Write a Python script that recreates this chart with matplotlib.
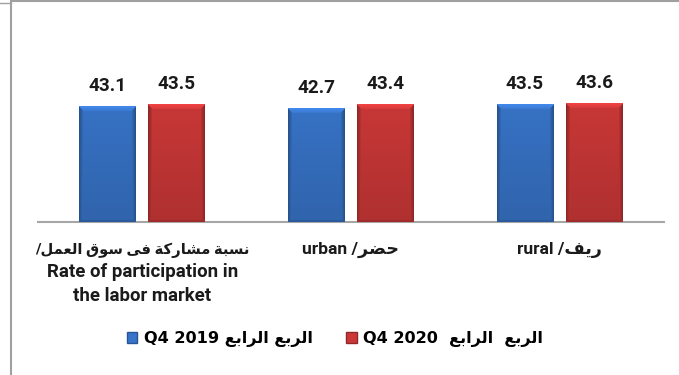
import numpy as np
import matplotlib
matplotlib.use('Agg')
import matplotlib.pyplot as plt
import matplotlib.transforms as mtransforms
from matplotlib.patches import Patch
from matplotlib.lines import Line2D

# Arabic letters -> (isolated, final, initial, medial); None = does not join forward
FORMS = {
    'ا': (0xFE8D, 0xFE8E, None, None),
    'ب': (0xFE8F, 0xFE90, 0xFE91, 0xFE92),
    'ة': (0xFE93, 0xFE94, None, None),
    'ح': (0xFEA1, 0xFEA2, 0xFEA3, 0xFEA4),
    'ر': (0xFEAD, 0xFEAE, None, None),
    'س': (0xFEB1, 0xFEB2, 0xFEB3, 0xFEB4),
    'ش': (0xFEB5, 0xFEB6, 0xFEB7, 0xFEB8),
    'ض': (0xFEBD, 0xFEBE, 0xFEBF, 0xFEC0),
    'ع': (0xFEC9, 0xFECA, 0xFECB, 0xFECC),
    'ف': (0xFED1, 0xFED2, 0xFED3, 0xFED4),
    'ق': (0xFED5, 0xFED6, 0xFED7, 0xFED8),
    'ك': (0xFED9, 0xFEDA, 0xFEDB, 0xFEDC),
    'ل': (0xFEDD, 0xFEDE, 0xFEDF, 0xFEE0),
    'م': (0xFEE1, 0xFEE2, 0xFEE3, 0xFEE4),
    'ن': (0xFEE5, 0xFEE6, 0xFEE7, 0xFEE8),
    'و': (0xFEED, 0xFEEE, None, None),
    'ى': (0xFEEF, 0xFEF0, None, None),
    'ي': (0xFEF1, 0xFEF2, 0xFEF3, 0xFEF4),
}


def arabic(text):
    """Shape Arabic letters and return them in display (left-to-right) order."""
    out = []
    for i, ch in enumerate(text):
        if ch not in FORMS:
            out.append(ch)
            continue
        iso, fin, ini, med = FORMS[ch]
        prev = text[i - 1] if i > 0 else ''
        nxt = text[i + 1] if i + 1 < len(text) else ''
        joins_prev = prev in FORMS and FORMS[prev][2] is not None
        joins_next = nxt in FORMS and ini is not None
        if joins_prev and joins_next:
            out.append(chr(med))
        elif joins_prev:
            out.append(chr(fin))
        elif joins_next:
            out.append(chr(ini))
        else:
            out.append(chr(iso))
    return ''.join(reversed(out))


# data: each category label is a list of lines
categories = [
    ['/' + arabic('نسبة مشاركة فى سوق العمل'), 'Rate of participation in', 'the labor market'],
    ['urban /' + arabic('حضر')],
    ['rural /' + arabic('ريف')],
]
q4_2019 = [43.1, 42.7, 43.5]
q4_2020 = [43.5, 43.4, 43.6]
series_labels = [
    'Q4 2019 ' + arabic('الربع الرابع'),
    'Q4 2020  ' + arabic('الربع  الرابع'),
]

blue = np.array([56, 116, 200]) / 255
red = np.array([204, 56, 56]) / 255
label_font = ['Roboto', 'DejaVu Sans']

fig = plt.figure(figsize=(6.79, 3.75), dpi=100)
ax = fig.add_axes([38 / 679, 1 - 221.7 / 375, 626 / 679, 150.6 / 375])

x = np.arange(len(categories))
width = 0.273
offset = 0.166
bars_a = ax.bar(x - offset, q4_2019, width, color=blue, edgecolor='none', zorder=2)
bars_b = ax.bar(x + offset, q4_2020, width, color=red, edgecolor='none', zorder=2)

ax.set_ylim(20, 50)
ax.set_xlim(-0.5, len(categories) - 0.5)
fig.canvas.draw()


def shade(bar, base):
    # bevelled look: lighter top edge, darker sides, slight top-to-bottom fade
    x0, y0 = bar.get_x(), 20
    x1, y1 = x0 + bar.get_width(), bar.get_height()
    (px0, py0), (px1, py1) = ax.transData.transform([(x0, y0), (x1, y1)])
    w = max(int(round(px1 - px0)), 2)
    h = max(int(round(py1 - py0)), 2)
    cols = np.arange(w)[None, :]
    rows = np.arange(h)[:, None]
    edge = np.minimum(cols, w - 1 - cols)
    f = np.ones((h, w))
    f *= 0.98 - 0.12 * rows / h
    f = np.where(edge < 4, 0.70 + 0.06 * edge, f)
    top = (rows < 5) & (edge >= rows)
    f = np.where(top, 1.18 - 0.03 * rows, f)
    f = np.where(rows >= h - 2, 0.78, f)
    img = np.clip(base[None, None, :] * f[:, :, None], 0, 1)
    ax.imshow(img, extent=(x0, x1, y0, y1), aspect='auto', origin='upper',
              zorder=3, interpolation='bilinear')


for bar in bars_a:
    shade(bar, blue)
for bar in bars_b:
    shade(bar, red)
ax.set_xlim(-0.5, len(categories) - 0.5)
ax.set_ylim(20, 50)

# value labels
for bars, vals in ((bars_a, q4_2019), (bars_b, q4_2020)):
    for bar, v in zip(bars, vals):
        ax.annotate(f'{v:.1f}', (bar.get_x() + bar.get_width() / 2, v),
                    xytext=(0, 8), textcoords='offset points', ha='center', va='bottom',
                    fontsize=13.6, fontweight='bold', family=label_font, color='#1a1a1a')

for s in ('top', 'left', 'right'):
    ax.spines[s].set_visible(False)
ax.spines['bottom'].set_color('#a6a6a6')
ax.spines['bottom'].set_linewidth(1.5)
ax.set_yticks([])
ax.set_xticks([])

# category labels, one text per line below the baseline
line_drops = [20.4, 36.2, 53.5]  # points below the axis line
for xi, lines in zip(x, categories):
    for j, line in enumerate(lines):
        multi = len(lines) > 1
        size = (10.6 if j == 0 else 13.4) if multi else 12.6
        tr = mtransforms.offset_copy(ax.get_xaxis_transform(), fig=fig, x=0, y=-line_drops[j], units='points')
        ax.text(xi, 0, line, transform=tr, ha='center', va='center', fontsize=size,
                fontweight='bold', family=label_font, color='#1a1a1a', clip_on=False)

handles = [Patch(facecolor=blue, edgecolor='#2a5595'), Patch(facecolor=red, edgecolor='#8c2a2a')]
fig.legend(handles, series_labels, loc='center', bbox_to_anchor=(335 / 679, 1 - 339 / 375),
           ncol=2, frameon=False, handlelength=0.65, handleheight=0.65, handletextpad=0.4,
           columnspacing=2.1, prop={'family': 'DejaVu Sans', 'weight': 'bold', 'size': 11.6})

# cell border lines
grey = '#a0a0a0'
fig.add_artist(Line2D([11 / 679, 11 / 679], [0, 1 - 1 / 375], transform=fig.transFigure, color=grey, lw=1.5))
fig.add_artist(Line2D([11 / 679, 1], [1 - 1 / 375, 1 - 1 / 375], transform=fig.transFigure, color=grey, lw=1.5))
fig.add_artist(Line2D([0, 11 / 679], [1 - 3 / 375, 1 - 3 / 375], transform=fig.transFigure, color=grey, lw=1.0))

fig.savefig('out.png', dpi=100)
